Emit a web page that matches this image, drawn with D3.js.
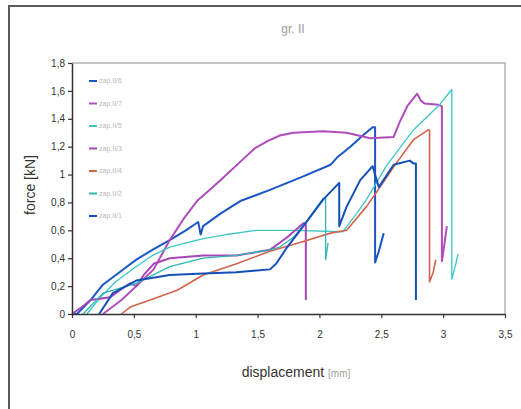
<!DOCTYPE html>
<html>
<head>
<meta charset="utf-8">
<script src="https://cdn.jsdelivr.net/npm/d3@7"></script>
<style>
  body { margin: 0; background: #fff; }
  svg { display: block; }
</style>
</head>
<body>
<svg id="chart"></svg>
<script>
// Tick values
const xTicks = [0, 0.5, 1, 1.5, 2, 2.5, 3, 3.5];
const yTicks = [0, 0.2, 0.4, 0.6, 0.8, 1, 1.2, 1.4, 1.6, 1.8];

// Series names (legend order) and colours
const seriesNames = ['zap.II/6', 'zap.II/7', 'zap.II/5', 'zap.II/3', 'zap.II/4', 'zap.II/2', 'zap.II/1'];
const seriesColors = ['#1a56c4', '#b04cbc', '#3cc6c6', '#a846b8', '#d0644c', '#30b6b6', '#1450b8'];
const seriesWidths = [2, 2, 1.3, 2, 1.6, 1.3, 2];

// Displacement [mm], force [kN] pairs
const zap6 = [[0, 0], [0.04, 0], [0.15, 0.1], [0.25, 0.21], [0.4, 0.31], [0.52, 0.39], [0.65, 0.46], [0.79, 0.53],
  [0.92, 0.6], [1.02, 0.66], [1.04, 0.57], [1.06, 0.63], [1.2, 0.72], [1.36, 0.81], [1.48, 0.85], [1.6, 0.89],
  [1.85, 0.98], [2.09, 1.07], [2.14, 1.12], [2.25, 1.2], [2.35, 1.28], [2.43, 1.34], [2.45, 1.34], [2.45, 0.37],
  [2.48, 0.45], [2.52, 0.58]];
const zap7 = [[0.25, 0], [0.4, 0.1], [0.52, 0.2], [0.66, 0.32], [0.79, 0.53], [0.9, 0.68], [1.01, 0.81], [1.1, 0.88],
  [1.2, 0.96], [1.37, 1.1], [1.48, 1.19], [1.58, 1.24], [1.68, 1.28], [1.79, 1.3], [2.03, 1.31], [2.22, 1.3],
  [2.41, 1.26], [2.6, 1.27], [2.65, 1.38], [2.71, 1.49], [2.79, 1.58], [2.82, 1.53], [2.85, 1.51], [2.96, 1.5],
  [2.99, 1.49], [2.99, 0.38], [3.01, 0.5], [3.03, 0.63]];
const zap5 = [[0.12, 0], [0.23, 0.12], [0.35, 0.23], [0.52, 0.34], [0.65, 0.42], [0.79, 0.48], [1.06, 0.54],
  [1.25, 0.57], [1.49, 0.6], [1.8, 0.6], [2.19, 0.59], [2.3, 0.72], [2.38, 0.82], [2.54, 1.06], [2.76, 1.32],
  [2.97, 1.5], [3.07, 1.61], [3.07, 0.25], [3.1, 0.35], [3.12, 0.43]];
const zap3 = [[0, 0], [0.08, 0.05], [0.15, 0.1], [0.31, 0.12], [0.4, 0.18], [0.47, 0.22], [0.52, 0.2], [0.58, 0.28],
  [0.66, 0.36], [0.79, 0.4], [1.06, 0.42], [1.33, 0.42], [1.6, 0.46], [1.74, 0.55], [1.87, 0.65], [1.89, 0.65],
  [1.89, 0.1]];
const zap4 = [[0.4, 0], [0.47, 0.05], [0.66, 0.11], [0.85, 0.17], [1.06, 0.28], [1.33, 0.36], [1.6, 0.45], [1.87, 0.52],
  [2.09, 0.58], [2.22, 0.6], [2.38, 0.77], [2.49, 0.91], [2.62, 1.08], [2.76, 1.25], [2.88, 1.32], [2.89, 1.32],
  [2.89, 0.23], [2.92, 0.3], [2.94, 0.39]];
const zap2 = [[0.09, 0], [0.25, 0.15], [0.52, 0.22], [0.79, 0.34], [1.06, 0.4], [1.33, 0.42], [1.6, 0.46], [1.68, 0.48],
  [1.79, 0.55], [1.9, 0.67], [2.03, 0.83], [2.05, 0.83], [2.05, 0.39], [2.06, 0.45], [2.07, 0.51]];
const zap1 = [[0.22, 0], [0.33, 0.15], [0.52, 0.24], [0.79, 0.28], [1.06, 0.29], [1.33, 0.3], [1.6, 0.32], [1.65, 0.36],
  [1.74, 0.48], [1.87, 0.63], [2.03, 0.82], [2.16, 0.94], [2.16, 0.63], [2.22, 0.77], [2.33, 0.96], [2.43, 1.06],
  [2.48, 0.91], [2.6, 1.07], [2.73, 1.1], [2.76, 1.08], [2.78, 1.08], [2.78, 0.1]];

const seriesData = [zap6, zap7, zap5, zap3, zap4, zap2, zap1];

function drawChart() {
    const width = 521;
    const height = 409;
    const plot = { left: 72, right: 505, top: 63, bottom: 314 };
    const tickFont = '"Liberation Sans Narrow", "Arial Narrow", "Liberation Sans", sans-serif';

    const svg = d3.select('#chart')
        .attr('width', width)
        .attr('height', height);

    // Outer frame (left and top edges only are visible)
    svg.append('path')
        .attr('d', `M9,${height}V6H${width}`)
        .attr('fill', 'none')
        .attr('stroke', '#5a5a5a')
        .attr('stroke-width', 2);

    const xScale = d3.scaleLinear().domain([0, 3.5]).range([plot.left, plot.right]);
    const yScale = d3.scaleLinear().domain([0, 1.8]).range([plot.bottom, plot.top]);
    const fmt = d => String(d).replace('.', ',');

    // Plot border (top and right)
    svg.append('path')
        .attr('d', `M${plot.left},${plot.top}H${plot.right}V${plot.bottom}`)
        .attr('fill', 'none')
        .attr('stroke', '#b4b4b4')
        .attr('stroke-width', 1.5);

    // Series lines
    const line = d3.line()
        .x(d => xScale(d[0]))
        .y(d => yScale(d[1]));
    svg.append('g')
        .selectAll('path')
        .data(seriesData)
        .join('path')
        .attr('d', line)
        .attr('fill', 'none')
        .attr('stroke', (d, i) => seriesColors[i])
        .attr('stroke-width', (d, i) => seriesWidths[i])
        .attr('stroke-linejoin', 'round');

    // Axes
    const xAxis = svg.append('g')
        .attr('transform', `translate(0,${plot.bottom})`)
        .call(d3.axisBottom(xScale).tickValues(xTicks).tickFormat(fmt).tickSize(4).tickSizeOuter(0).tickPadding(13));
    const yAxis = svg.append('g')
        .attr('transform', `translate(${plot.left},0)`)
        .call(d3.axisLeft(yScale).tickValues(yTicks).tickFormat(fmt).tickSize(4).tickSizeOuter(0).tickPadding(3));
    [xAxis, yAxis].forEach(ax => {
        ax.select('.domain').attr('stroke', '#333').attr('stroke-width', 1.5);
        ax.selectAll('.tick line').attr('stroke', '#333').attr('stroke-width', 1.2);
        ax.selectAll('.tick text')
            .attr('fill', '#333')
            .style('font-family', tickFont)
            .style('font-size', '10px');
    });

    // Legend
    const legend = svg.append('g')
        .selectAll('g')
        .data(seriesNames)
        .join('g')
        .attr('transform', (d, i) => `translate(89,${81 + i * 22.5})`);
    legend.append('line')
        .attr('x1', 0).attr('x2', 8)
        .attr('stroke', (d, i) => seriesColors[i])
        .attr('stroke-width', 2);
    legend.append('text')
        .attr('x', 10)
        .attr('dy', '0.35em')
        .attr('fill', '#b8b8b8')
        .style('font-family', tickFont)
        .style('font-size', '7px')
        .text(d => d);

    // Title
    svg.append('text')
        .attr('x', 293)
        .attr('y', 33)
        .attr('text-anchor', 'middle')
        .attr('fill', '#9a9a9a')
        .style('font-family', tickFont)
        .style('font-size', '12px')
        .text('gr. II');

    // Axis titles
    svg.append('text')
        .attr('transform', 'translate(35,185) rotate(-90)')
        .attr('text-anchor', 'middle')
        .attr('fill', '#333')
        .style('font-family', '"Liberation Sans", Arial, sans-serif')
        .style('font-size', '14px')
        .text('force [kN]');

    const xTitle = svg.append('text')
        .attr('x', 296)
        .attr('y', 377)
        .attr('text-anchor', 'middle')
        .attr('fill', '#333')
        .style('font-family', '"Liberation Sans", Arial, sans-serif')
        .style('font-size', '14px');
    xTitle.append('tspan').text('displacement ');
    xTitle.append('tspan')
        .attr('fill', '#a0a0a0')
        .style('font-size', '10px')
        .text('[mm]');
}

drawChart();
</script>
</body>
</html>
